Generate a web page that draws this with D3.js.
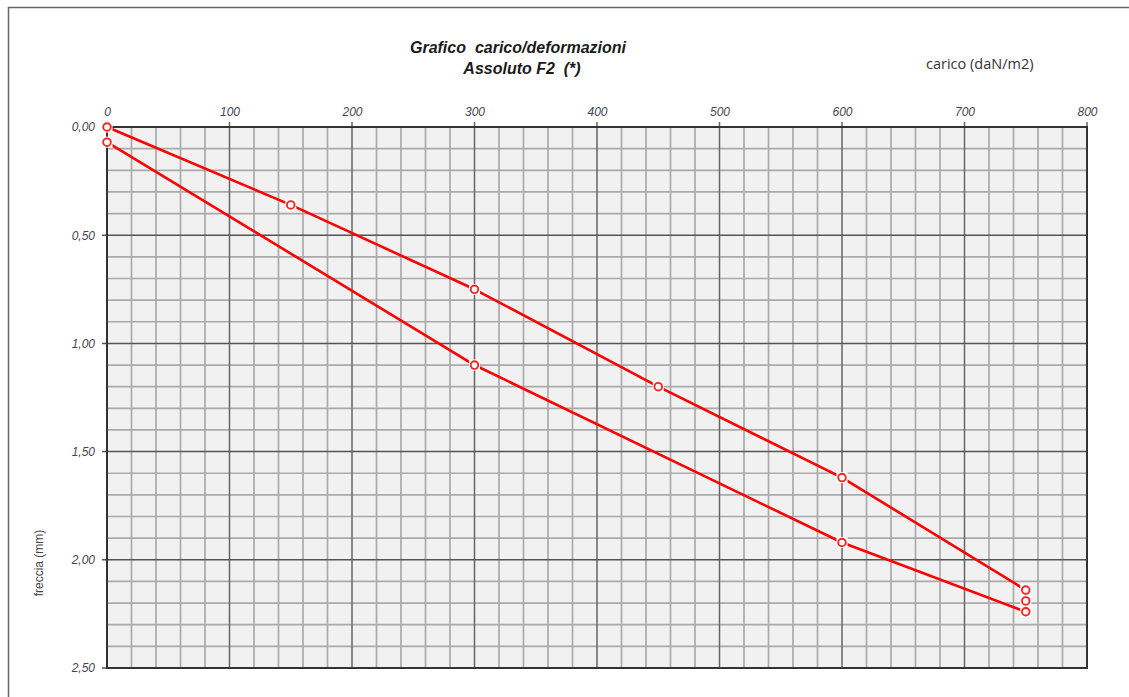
<!DOCTYPE html>
<html><head><meta charset="utf-8">
<script src="https://cdn.jsdelivr.net/npm/d3@7"></script>
<style>html,body{margin:0;padding:0;background:#fff;}svg{display:block;} text{white-space:pre;}</style>
</head><body>
<svg id="c" width="1129" height="697"></svg>
<script>
// Data
const carico = [0, 150, 300, 450, 600, 750, 750, 750, 600, 300, 0];
const freccia = [0.00, 0.36, 0.75, 1.20, 1.62, 2.14, 2.19, 2.24, 1.92, 1.10, 0.07];
const xTicks = [0, 100, 200, 300, 400, 500, 600, 700, 800];
const yTicks = [0, 0.5, 1.0, 1.5, 2.0, 2.5];
const yTickLabels = ["0,00", "0,50", "1,00", "1,50", "2,00", "2,50"];
const titleLines = ["Grafico  carico/deformazioni", "Assoluto F2  (*)"];

const svg = d3.select("#c");
const L = 107, R = 1087, T = 127, B = 668;
const x = d3.scaleLinear().domain([0, 800]).range([L, R]);
const y = d3.scaleLinear().domain([0, 2.5]).range([T, B]);

// outer frame
svg.append("path").attr("d", "M8.5,697 L8.5,7.5 L1129,7.5").attr("fill", "none").attr("stroke", "#666").attr("stroke-width", 1.5);

// plot background
svg.append("rect").attr("x", L).attr("y", T).attr("width", R - L).attr("height", B - T).attr("fill", "#f1f1f1");

// minor grid
const g = svg.append("g");
d3.range(0, 801, 20).forEach(v => {
  if (v % 100 === 0) return;
  g.append("line").attr("x1", x(v)).attr("x2", x(v)).attr("y1", T).attr("y2", B).attr("stroke", "#aaaaaa").attr("stroke-width", 1.7);
});
d3.range(0, 26).map(i => i / 10).forEach((v, i) => {
  if (i % 5 === 0) return;
  g.append("line").attr("x1", L).attr("x2", R).attr("y1", y(v)).attr("y2", y(v)).attr("stroke", "#aaaaaa").attr("stroke-width", 1.7);
});
// major grid
xTicks.forEach(v => {
  g.append("line").attr("x1", x(v)).attr("x2", x(v)).attr("y1", T - 5).attr("y2", B).attr("stroke", "#666").attr("stroke-width", 1.5);
});
yTicks.forEach(v => {
  g.append("line").attr("x1", L - 5).attr("x2", R).attr("y1", y(v)).attr("y2", y(v)).attr("stroke", "#555").attr("stroke-width", 1.5);
});
// border
svg.append("rect").attr("x", L).attr("y", T).attr("width", R - L).attr("height", B - T).attr("fill", "none").attr("stroke", "#333").attr("stroke-width", 2);

// top axis labels
const xAxis = d3.axisTop(x).tickValues(xTicks).tickSize(0).tickPadding(11).tickFormat(d3.format("d"));
const ax = svg.append("g").attr("transform", `translate(0,${T})`).call(xAxis);
ax.select(".domain").remove();
ax.selectAll("text").attr("font-family", "Liberation Sans, Arial, sans-serif").attr("font-style", "italic").attr("font-size", 12).attr("fill", "#464652");

const yAxis = d3.axisLeft(y).tickValues(yTicks).tickSize(0).tickPadding(12).tickFormat((d, i) => yTickLabels[i]);
const ay = svg.append("g").attr("transform", `translate(${L},0)`).call(yAxis);
ay.select(".domain").remove();
ay.selectAll("text").attr("font-family", "Liberation Sans, Arial, sans-serif").attr("font-style", "italic").attr("font-size", 12).attr("fill", "#464652");

// line
const pts = carico.map((c, i) => [c, freccia[i]]);
svg.append("path").datum(pts)
  .attr("d", d3.line().x(d => x(d[0])).y(d => y(d[1])))
  .attr("fill", "none").attr("stroke", "#ff0000").attr("stroke-width", 2.6).attr("stroke-linejoin", "round");

// markers
const m = svg.append("g");
m.selectAll("rect").data(pts).join("rect")
  .attr("x", d => x(d[0]) - 5.5).attr("y", d => y(d[1]) - 5.5).attr("width", 11).attr("height", 11).attr("fill", "#fff");
m.selectAll("circle").data(pts).join("circle")
  .attr("cx", d => x(d[0])).attr("cy", d => y(d[1])).attr("r", 3.8)
  .attr("fill", "#fff").attr("stroke", "#ff2020").attr("stroke-width", 1.9);

// titles
titleLines.forEach((t, i) => {
  svg.append("text").attr("x", 518 + (i ? 4 : 0)).attr("y", 53 + i * 21).attr("text-anchor", "middle")
    .attr("font-family", "Liberation Sans, Arial, sans-serif").attr("font-style", "italic").attr("font-weight", "bold")
    .attr("font-size", 16).attr("fill", "#1a1a1a").text(t);
});
svg.append("text").attr("x", 926).attr("y", 69).attr("font-family", "Open Sans, Liberation Sans, sans-serif")
  .attr("font-size", 14.5).attr("fill", "#333").text("carico (daN/m2)");
svg.append("text").attr("transform", "translate(43,563) rotate(-90)").attr("text-anchor", "middle")
  .attr("font-family", "Liberation Sans, Arial, sans-serif").attr("font-size", 12).attr("fill", "#444").text("freccia (mm)");
</script>
</body></html>
